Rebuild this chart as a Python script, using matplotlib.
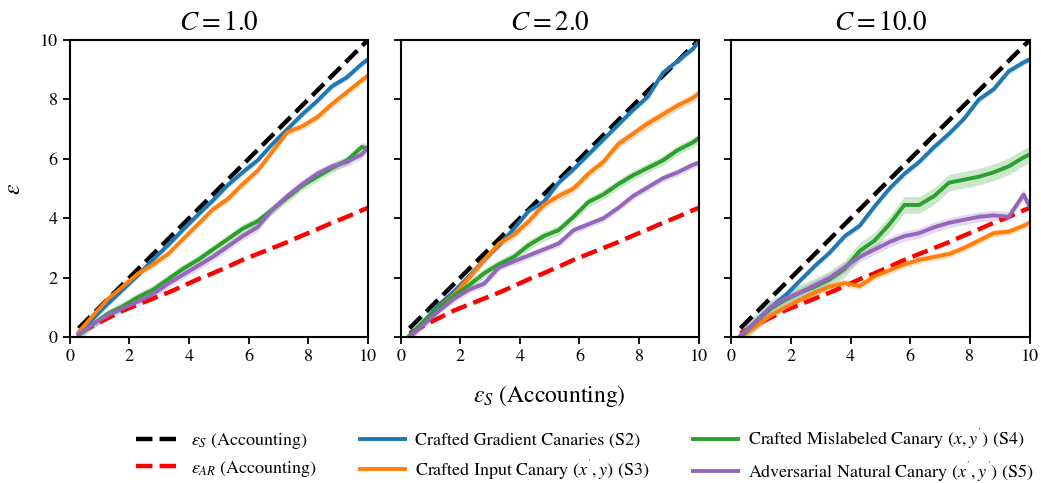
import numpy as np
import matplotlib
matplotlib.use("Agg")
import matplotlib.pyplot as plt

plt.rcParams["font.family"] = ["STIXGeneral", "DejaVu Serif"]
plt.rcParams["mathtext.fontset"] = "stix"

# epsilon values from accounting (x axis)
eps_s = [0.3, 0.8, 1.3, 1.8, 2.3, 2.8, 3.3, 3.8, 4.3, 4.8, 5.3, 5.8, 6.3, 6.8,
         7.3, 7.8, 8.3, 8.8, 9.3, 9.8, 10.0]
eps_ar = [0.13, 0.4, 0.65, 0.9, 1.1, 1.3, 1.5, 1.72, 1.95, 2.15, 2.37, 2.6, 2.8,
          3.0, 3.2, 3.42, 3.63, 3.85, 4.05, 4.27, 4.35]

titles = ["$C = 1.0$", "$C = 2.0$", "$C = 10.0$"]

# C = 1.0
c1_grad = [0.12, 0.65, 1.15, 1.62, 2.1, 2.62, 3.1, 3.62, 4.12, 4.6, 5.12, 5.55,
           5.95, 6.5, 7.0, 7.5, 7.95, 8.45, 8.75, 9.2, 9.35]
c1_input = [0.18, 0.75, 1.3, 1.72, 2.15, 2.45, 2.8, 3.3, 3.8, 4.3, 4.65, 5.15,
            5.6, 6.25, 6.9, 7.1, 7.4, 7.85, 8.25, 8.65, 8.8]
c1_mislab = [0.07, 0.45, 0.8, 1.05, 1.35, 1.6, 1.95, 2.3, 2.6, 2.95, 3.3, 3.65,
             3.9, 4.3, 4.7, 5.1, 5.4, 5.7, 5.95, 6.4, 6.35]
c1_adv = [0.1, 0.45, 0.75, 0.98, 1.2, 1.45, 1.8, 2.1, 2.4, 2.7, 3.05, 3.4, 3.7,
          4.3, 4.75, 5.15, 5.5, 5.75, 5.9, 6.15, 6.4]

# C = 2.0
c2_grad = [0.05, 0.55, 1.1, 1.55, 2.05, 2.6, 3.1, 3.65, 4.25, 4.55, 5.2, 5.65,
           6.15, 6.65, 7.15, 7.65, 8.1, 8.9, 9.3, 9.7, 9.95]
c2_input = [0.05, 0.5, 1.0, 1.45, 2.0, 2.6, 3.15, 3.45, 3.9, 4.45, 4.75, 5.0,
            5.5, 5.9, 6.5, 6.85, 7.2, 7.5, 7.8, 8.05, 8.2]
c2_mislab = [0.05, 0.55, 1.0, 1.4, 1.75, 2.15, 2.45, 2.7, 3.1, 3.4, 3.6, 4.05,
             4.55, 4.8, 5.15, 5.45, 5.7, 5.95, 6.3, 6.55, 6.7]
c2_adv = [0.0, 0.45, 0.9, 1.3, 1.6, 1.8, 2.35, 2.55, 2.75, 2.95, 3.15, 3.6, 3.8,
          4.0, 4.35, 4.75, 5.05, 5.35, 5.55, 5.8, 5.87]

# C = 10.0
c10_grad = [0.05, 0.5, 0.98, 1.4, 1.9, 2.4, 2.85, 3.4, 3.75, 4.4, 5.0, 5.5,
            5.9, 6.4, 6.85, 7.35, 8.0, 8.35, 8.95, 9.25, 9.35]
c10_input = [0.0, 0.35, 0.72, 1.0, 1.25, 1.5, 1.7, 1.82, 1.72, 2.05, 2.25,
             2.45, 2.6, 2.7, 2.8, 3.0, 3.25, 3.5, 3.55, 3.75, 3.85]
c10_mislab = [0.0, 0.5, 0.95, 1.25, 1.5, 1.7, 1.95, 2.3, 2.9, 3.25, 3.8, 4.45,
              4.45, 4.75, 5.2, 5.3, 5.4, 5.55, 5.75, 6.05, 6.15]
c10_adv = [0.05, 0.5, 1.0, 1.3, 1.5, 1.75, 2.0, 2.35, 2.7, 2.95, 3.2, 3.4, 3.5,
           3.7, 3.85, 3.95, 4.05, 4.1, 4.05, 4.8, 4.4]

# spread of each series (std over runs)
c1_std = [0.1, 0.12, 0.15, 0.14]
c2_std = [0.1, 0.15, 0.16, 0.12]
c10_std = [0.1, 0.12, 0.28, 0.17]

panels = [
    (c1_grad, c1_input, c1_mislab, c1_adv, c1_std),
    (c2_grad, c2_input, c2_mislab, c2_adv, c2_std),
    (c10_grad, c10_input, c10_mislab, c10_adv, c10_std),
]

labels = [
    "Crafted Gradient Canaries (S2)",
    "Crafted Input Canary $(x^{'}, y)$ (S3)",
    "Crafted Mislabeled Canary $(x, y^{'})$ (S4)",
    "Adversarial Natural Canary $(x^{'}, y^{'})$ (S5)",
]
colors = ["#1f77b4", "#ff7f0e", "#2ca02c", "#9467bd"]

fig, axes = plt.subplots(1, 3, figsize=(10.41, 4.83), dpi=100, sharey=True)
fig.subplots_adjust(left=0.067, right=0.989, top=0.917, bottom=0.302, wspace=0.11)

x = np.array(eps_s)
for ax, title, (g, i, m, a, std) in zip(axes, titles, panels):
    ax.plot(x, eps_s, color="black", ls="--", lw=3.2, label=r"$\varepsilon_S$ (Accounting)")
    ax.plot(x, eps_ar, color="red", ls="--", lw=3.2, label=r"$\varepsilon_{AR}$ (Accounting)")
    for ys, s, c, lab in zip([g, i, m, a], std, colors, labels):
        ys = np.array(ys)
        ax.fill_between(x, ys - s, ys + s, color=c, alpha=0.25, lw=0)
        ax.plot(x, ys, color=c, lw=2.8, label=lab)
    ax.set_xlim(0, 10)
    ax.set_ylim(0, 10)
    ax.set_xticks([0, 2, 4, 6, 8, 10])
    ax.set_yticks([0, 2, 4, 6, 8, 10])
    ax.set_title(title, fontsize=19.5, pad=7)
    ax.tick_params(labelsize=13, width=1.3, length=5)
    for sp in ax.spines.values():
        sp.set_linewidth(1.5)

axes[0].set_ylabel(r"$\varepsilon$", fontsize=17, labelpad=11)
axes[1].set_xlabel(r"$\varepsilon_S$ (Accounting)", fontsize=17, labelpad=13)

handles, labs = axes[0].get_legend_handles_labels()
fig.legend(handles, labs, loc="lower center", ncol=3, frameon=False,
           fontsize=13, bbox_to_anchor=(0.562, -0.035), columnspacing=2.4,
           handlelength=2.5, handletextpad=0.55, labelspacing=0.4)

fig.savefig("out.png", dpi=100)
